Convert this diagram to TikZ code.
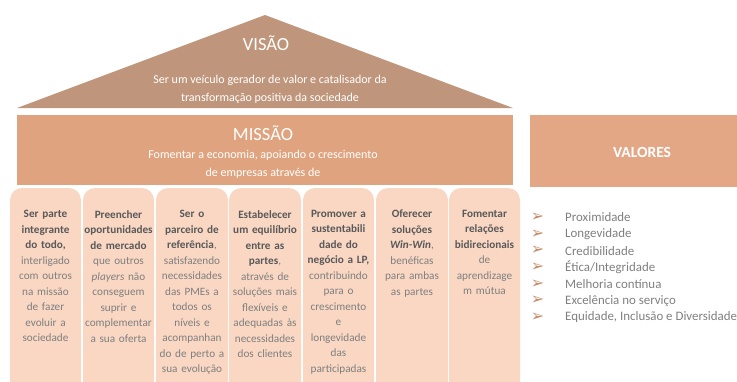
\documentclass[tikz,border=0pt]{standalone}
\usepackage{fontspec}
\setmainfont{Carlito}
\newfontfamily\symfont{DejaVu Sans}

\definecolor{roofbrown}{HTML}{BF967B}
\definecolor{missionorange}{HTML}{DFA47F}
\definecolor{valorange}{HTML}{E3A786}
\definecolor{colpeach}{HTML}{F9D7C3}
\definecolor{headgray}{HTML}{595959}
\definecolor{bodygray}{HTML}{7F7F7F}
\definecolor{arrowtan}{HTML}{C78C68}

\newcommand{\hd}[1]{\textcolor{headgray}{\textbf{#1}}}

\begin{document}
\begin{tikzpicture}[x=1pt, y=-1pt,
    colbox/.style={fill=colpeach, rounded corners=12pt},
    coltext/.style={anchor=north, inner sep=0pt, text width=72pt, align=center,
        font=\fontsize{11.2}{15.5}\selectfont, text=bodygray},
    whitetext/.style={text=white, align=center, inner sep=0pt}]
    \useasboundingbox (0, 0) rectangle (737, 381);

    % roof: visao
    \fill[roofbrown] (17, 108) -- (265, 15) -- (513, 108) -- cycle;
    \node[whitetext, font=\fontsize{18.5}{20}\selectfont] (visao) at (266, 43) {VISÃO};
    \node[whitetext, font=\fontsize{12}{18}\selectfont] (visaotxt) at (270, 89.5)
        {Ser um veículo gerador de valor e catalisador da\\ transformação positiva da sociedade};

    % missao
    \fill[missionorange] (17, 115) rectangle (513, 185);
    \node[whitetext, font=\fontsize{18.5}{20}\selectfont] (missao) at (263, 133) {MISSÃO};
    \node[whitetext, font=\fontsize{12}{18}\selectfont] (missaotxt) at (263, 164.5)
        {Fomentar a economia, apoiando o crescimento\\ de empresas através de};

    % pillars
    \fill[colbox] (10, 188) rectangle (81, 410);
    \fill[colbox] (83, 188) rectangle (154, 410);
    \fill[colbox] (156, 188) rectangle (228, 410);
    \fill[colbox] (229, 188) rectangle (301, 410);
    \fill[colbox] (303, 188) rectangle (374, 410);
    \fill[colbox] (376, 188) rectangle (448, 410);
    \fill[colbox] (449, 188) rectangle (520, 410);

    \node[coltext] (p1) at (45.5, 210) {\hd{Ser parte}\\ \hd{integrante}\\ \hd{do todo,}\\ interligado\\ com outros\\ na missão\\ de fazer\\ evoluir a\\ sociedade};
    \node[coltext] (p2) at (118.5, 210) {\hd{Preencher}\\ \hd{oportunidades}\\ \hd{de mercado}\\ que outros\\ \emph{players} não\\ conseguem\\ suprir e\\ complementar\\ a sua oferta};
    \node[coltext] (p3) at (192, 210) {\hd{Ser o}\\ \hd{parceiro de}\\ \hd{referência},\\ satisfazendo\\ necessidades\\ das PMEs a\\ todos os\\ níveis e\\ acompanhan\\ do de perto a\\ sua evolução};
    \node[coltext] (p4) at (265, 210) {\hd{Estabelecer}\\ \hd{um equilíbrio}\\ \hd{entre as}\\ \hd{partes},\\ através de\\ soluções mais\\ flexíveis e\\ adequadas às\\ necessidades\\ dos clientes};
    \node[coltext] (p5) at (338.5, 210) {\hd{Promover a}\\ \hd{sustentabili}\\ \hd{dade do}\\ \hd{negócio a LP,}\\ contribuindo\\ para o\\ crescimento\\ e\\ longevidade\\ das\\ participadas};
    \node[coltext] (p6) at (412, 210) {\hd{Oferecer}\\ \hd{soluções}\\ \hd{\emph{Win-Win}},\\ benéficas\\ para ambas\\ as partes};
    \node[coltext] (p7) at (484.5, 210) {\hd{Fomentar}\\ \hd{relações}\\ \hd{bidirecionais}\\ de\\ aprendizage\\ m mútua};

    % valores
    \fill[valorange] (530, 115) rectangle (745, 187);
    \node[whitetext, font=\fontsize{15.5}{18}\selectfont\bfseries] (valores) at (642, 152) {VALORES};

    \foreach \val [count=\i] in {Proximidade, Longevidade, Credibilidade, Ética/Integridade,
            Melhoria contínua, Excelência no serviço, {Equidade, Inclusão e Diversidade}} {
        \node[text=arrowtan, font=\symfont\fontsize{16}{16}\selectfont, inner sep=0pt]
            (arr\i) at (537.5, 200.5 + 16.7*\i) {➢};
        \node[anchor=west, inner sep=0pt, text=bodygray, font=\fontsize{12.9}{15}\selectfont]
            (val\i) at (565, 200.5 + 16.7*\i) {\val};
    }
\end{tikzpicture}
\end{document}
